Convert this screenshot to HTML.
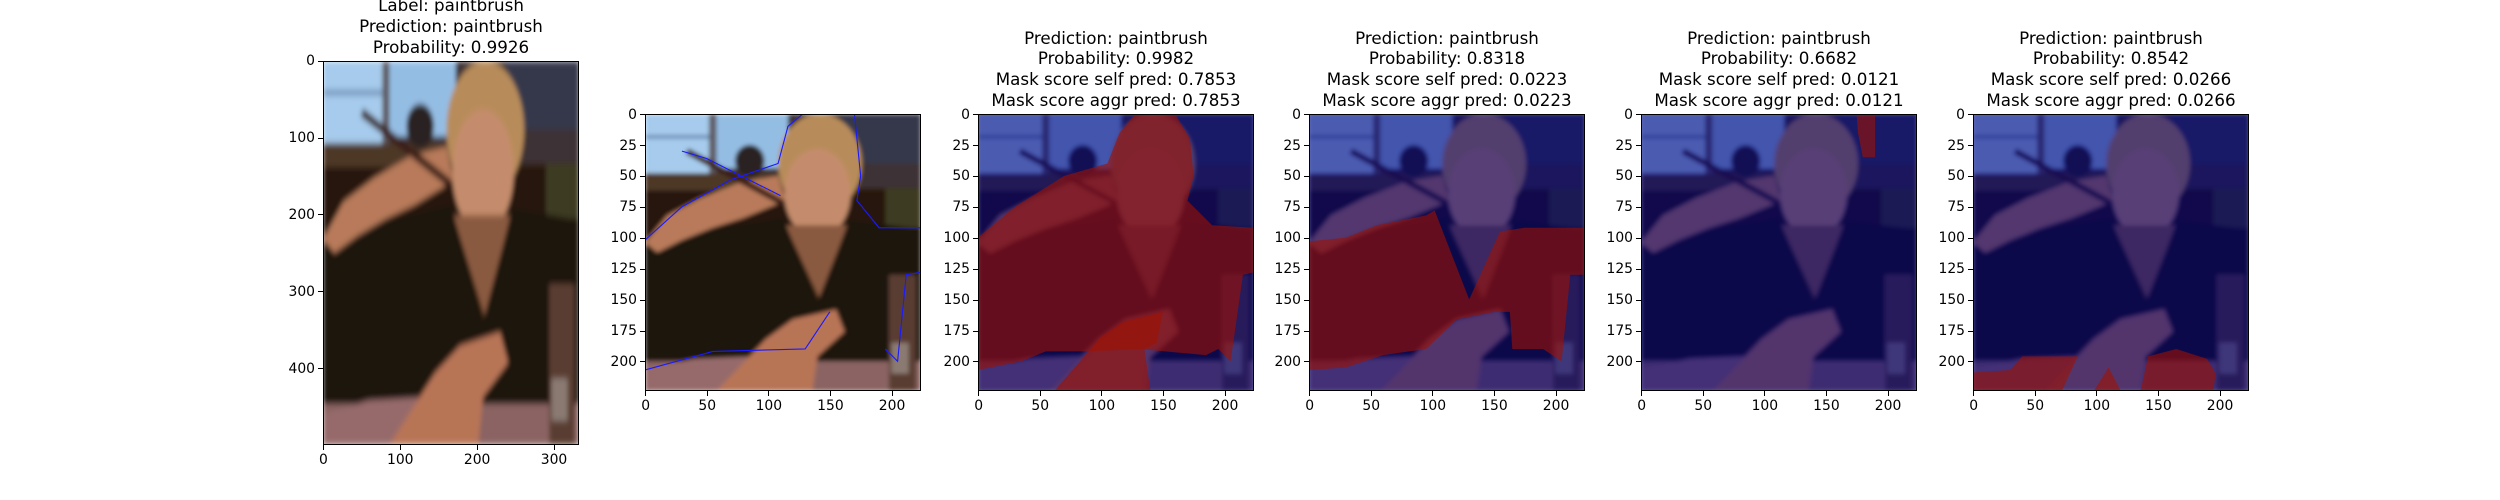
<!DOCTYPE html>
<html><head><meta charset="utf-8">
<style>
html,body{margin:0;padding:0;background:#fff;}
#root{position:relative;width:2500px;height:500px;overflow:hidden;font-family:"DejaVu Sans","Liberation Sans",sans-serif;color:#000;}
.ax{position:absolute;box-sizing:border-box;}
.ax svg.img{position:absolute;left:0;top:0;}
.frame{position:absolute;left:0;top:0;right:0;bottom:0;border:1px solid #000;box-sizing:border-box;}
.title{position:absolute;text-align:center;font-size:16.7px;line-height:20.5px;white-space:nowrap;transform:translateX(-50%);}
.tl{position:absolute;font-size:13.9px;line-height:14px;white-space:nowrap;}
.tk{position:absolute;background:#000;}
</style></head>
<body>
<div id="root">
<svg width="0" height="0" style="position:absolute">
<defs>
<filter id="bl" x="-10%" y="-10%" width="120%" height="120%"><feGaussianBlur stdDeviation="1.8"/></filter>
<g id="scene" filter="url(#bl)">
  <rect x="0" y="0" width="224" height="224" fill="#30200f"/>
  <rect x="0" y="0" width="224" height="60" fill="#3e3236"/>
  <rect x="0" y="0" width="52" height="48" fill="#a6cbec"/>
  <rect x="0" y="17" width="52" height="3" fill="#6e8fb6"/>
  <rect x="58" y="0" width="58" height="44" fill="#94bde4"/>
  <rect x="52" y="0" width="6" height="48" fill="#5e5a60"/>
  <rect x="160" y="0" width="64" height="40" fill="#34384c"/>
  <rect x="0" y="48" width="120" height="14" fill="#4e3828"/>
  <rect x="0" y="62" width="224" height="40" fill="#261810"/>
  <rect x="195" y="60" width="29" height="32" fill="#3e3a22"/>
  <ellipse cx="85" cy="38" rx="12" ry="13" fill="#2a2022"/>
  <ellipse cx="142" cy="40" rx="34" ry="40" fill="#b88c5a"/>
  <ellipse cx="140" cy="64" rx="27" ry="36" fill="#c48c6c"/>
  <polygon points="114,90 164,90 142,150" fill="#8a5a40"/>
  <polygon points="0,102 112,84 140,152 166,86 224,93 224,205 0,208" fill="#1c120e"/>
  <polygon points="0,104 18,82 45,68 78,55 108,50 114,70 80,84 55,92 30,102 10,112" fill="#b87a5a"/>
  <line x1="34" y1="30" x2="112" y2="72" stroke="#3a1a14" stroke-width="5"/>
  <rect x="0" y="200" width="224" height="24" fill="#8a6462"/>
  <polygon points="0,206 40,198 90,196 90,224 0,224" fill="#966a6a"/>
  <polygon points="58,224 98,182 120,166 155,158 162,176 140,196 136,224" fill="#b87456"/>
  <rect x="198" y="130" width="22" height="94" fill="#5a3e30"/>
  <rect x="200" y="185" width="14" height="25" fill="#8a7a72"/>
</g>
</defs>
</svg>
</div>
<script>
const titles = [
  ["Label: paintbrush","Prediction: paintbrush","Probability: 0.9926"],
  [],
  ["Prediction: paintbrush","Probability: 0.9982","Mask score self pred: 0.7853","Mask score aggr pred: 0.7853"],
  ["Prediction: paintbrush","Probability: 0.8318","Mask score self pred: 0.0223","Mask score aggr pred: 0.0223"],
  ["Prediction: paintbrush","Probability: 0.6682","Mask score self pred: 0.0121","Mask score aggr pred: 0.0121"],
  ["Prediction: paintbrush","Probability: 0.8542","Mask score self pred: 0.0266","Mask score aggr pred: 0.0266"]
];
const imgW = [333,224,224,224,224,224];
const imgH = [500,224,224,224,224,224];
const xTicks1 = [0,100,200,300];
const yTicks1 = [0,100,200,300,400];
const xTicksS = [0,50,100,150,200];
const yTicksS = [0,25,50,75,100,125,150,175,200];
const masks = [
  null,
  null,
  ["0,100 30,75 70,50 105,40 115,15 128,0 160,0 172,20 175,50 170,70 190,90 224,92 224,128 215,130 205,200 195,190 185,195 130,190 90,192 55,192 35,200 0,207",
   "62,224 100,180 118,168 150,160 145,185 135,190 140,224"],
  ["0,103 30,100 55,90 95,82 102,78 130,150 155,95 175,92 224,92 224,130 212,130 205,200 190,190 165,190 163,160 150,160 120,166 95,190 60,195 30,205 0,207"],
  ["175,0 190,0 190,35 180,35 176,15"],
  ["0,209 30,207 40,196 85,196 72,224 0,224","110,205 120,224 98,224","142,196 165,190 190,198 197,210 195,224 136,224"]
];
const contour2 = ["0,102 30,75 70,53 108,40 116,10 128,0","170,0 175,50 172,70 190,92 224,92","0,207 55,192 130,190 150,160","224,128 212,130 205,200 195,190","30,30 50,36 110,66"];
const rects = [[323,61,256,384],[645,114,276,277],[978,114,276,277],[1309,114,276,277],[1641,114,276,277],[1973,114,276,277]];
const root = document.getElementById('root');
const NS = 'http://www.w3.org/2000/svg';
rects.forEach((r,i)=>{
  const [L,T,W,H] = r;
  const ax = document.createElement('div');
  ax.className='ax';
  
  
  ax.style.cssText=`left:${L}px;top:${T}px;width:${W}px;height:${H}px;`;
  const svg = document.createElementNS(NS,'svg');
  svg.setAttribute('class','img');
  svg.setAttribute('width',W);svg.setAttribute('height',H);
  svg.setAttribute('viewBox','0 0 224 224');
  svg.setAttribute('preserveAspectRatio','none');
  
  
  const u = document.createElementNS(NS,'use');
  u.setAttribute('href','#scene');
  svg.appendChild(u);
  if(i===1){
    contour2.forEach(p=>{const pl=document.createElementNS(NS,'polyline');pl.setAttribute('points',p);pl.setAttribute('fill','none');pl.setAttribute('stroke','#1a1aff');pl.setAttribute('stroke-width','0.9');svg.appendChild(pl);});
  }
  if(i>=2){
    const ov=document.createElementNS(NS,'rect');
    ov.setAttribute('width','224');ov.setAttribute('height','224');ov.setAttribute('fill','#00007f');ov.setAttribute('opacity','0.55');
    
    
    svg.appendChild(ov);
    masks[i].forEach(p=>{
      const pg=document.createElementNS(NS,'polygon');
      pg.setAttribute('points',p);pg.setAttribute('fill','#a01000');pg.setAttribute('opacity','0.6');
      
      
      svg.appendChild(pg);
    });
  }
  ax.appendChild(svg);
  const fr=document.createElement('div');fr.className='frame';ax.appendChild(fr);
  root.appendChild(ax);
  const sx=W/imgW[i], sy=H/imgH[i];
  const xt = i===0?xTicks1:xTicksS, yt = i===0?yTicks1:yTicksS;
  xt.forEach(v=>{
    const x=L+(v+0.5)*sx;
    const t=document.createElement('div');t.className='tk';t.style.cssText=`left:${x-0.5}px;top:${T+H}px;width:1px;height:5px;`;root.appendChild(t);
    const l=document.createElement('div');l.className='tl';l.textContent=v;
    
    
    l.style.left=x+'px';l.style.top=(T+H+8)+'px';l.style.transform='translateX(-50%)';root.appendChild(l);
  });
  yt.forEach(v=>{
    const y=T+(v+0.5)*sy;
    const t=document.createElement('div');t.className='tk';t.style.cssText=`left:${L-5}px;top:${y-0.5}px;width:5px;height:1px;`;root.appendChild(t);
    const l=document.createElement('div');l.className='tl';l.textContent=v;
    
    
    l.style.right=(2500-L+8)+'px';l.style.top=(y-7)+'px';root.appendChild(l);
  });
  const tl=titles[i];
  tl.forEach((s,k)=>{
    const d=document.createElement('div');d.className='title';d.textContent=s;
    
    
    const cy=T-14-(tl.length-1-k)*20.8;
    d.style.left=(L+W/2)+'px';d.style.top=(cy-10)+'px';
    root.appendChild(d);
  });
});
</script>
</body></html>
